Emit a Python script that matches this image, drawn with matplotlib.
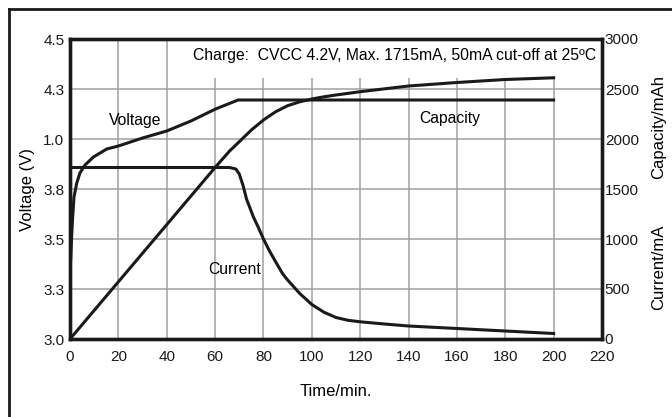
import matplotlib.pyplot as plt
from matplotlib.patches import Rectangle
from matplotlib.lines import Line2D

plt.rcParams['font.family'] = ['Liberation Sans', 'DejaVu Sans']

# ===== Data =====
volt_t = [0.3, 0.7, 1.1, 1.65, 2.8, 4.1, 6.2, 9.7, 15.2, 20, 30, 40, 50, 60, 69.5, 200]
volt_v = [3.40, 3.52, 3.61, 3.71, 3.78, 3.83, 3.87, 3.91, 3.95, 3.965, 4.005, 4.04, 4.09, 4.149, 4.195, 4.195]

curr_t = [0, 66, 68.6, 70, 71.5, 73, 75.8, 78, 80, 82.5, 85.4, 88, 90, 95, 100, 105, 110, 115,
          120, 130, 140, 160, 180, 200]
curr_ma = [1715, 1715, 1700, 1650, 1540, 1400, 1223, 1110, 1000, 880, 757, 650, 590, 455, 345,
           268, 215, 187, 172, 150, 130, 105, 80, 55]

cap_t = [0, 60, 66, 70, 75, 80, 85, 90, 95, 100, 105, 110, 120, 140, 160, 180, 200]
cap_mah = [0, 1715, 1880, 1973, 2090, 2190, 2272, 2333, 2372, 2400, 2422, 2440, 2473, 2530,
           2565, 2595, 2612]

x_ticks = list(range(0, 221, 20))
v_ticks = [3.0, 3.25, 3.5, 3.75, 4.0, 4.25, 4.5]
v_tick_labels = ["3.0", "3.3", "3.5", "3.8", "1.0", "4.3", "4.5"]
r_ticks = [0, 500, 1000, 1500, 2000, 2500, 3000]

note = "Charge:  CVCC 4.2V, Max. 1715mA, 50mA cut-off at 25ºC"

# ===== Figure =====
fig = plt.figure(figsize=(6.72, 4.17), dpi=100)
ax = fig.add_axes([70 / 672, 78 / 417, 532 / 672, 300 / 417])
ax2 = ax.twinx()

ax.set_xlim(0, 220)
ax.set_ylim(3.0, 4.5)
ax2.set_ylim(0, 3000)

ax.set_xticks(x_ticks)
ax.set_yticks(v_ticks)
ax.set_yticklabels(v_tick_labels)
ax2.set_yticks(r_ticks)

ax.grid(True, color="#a0a0a0", linewidth=1.1)
ax.set_axisbelow(True)

# white box behind the charge note hides the grid
ax.add_patch(Rectangle((44, 4.305), 176, 0.195, facecolor="white",
                       edgecolor="none", zorder=1))

# ===== Curves =====
ax.plot(volt_t, volt_v, color="#1a1a1a", linewidth=2.2, zorder=3)
ax2.plot(curr_t, curr_ma, color="#1a1a1a", linewidth=2.2, zorder=3)
ax2.plot(cap_t, cap_mah, color="#1a1a1a", linewidth=2.2, zorder=3)

# ===== Texts =====
fs = 11.3
ax.text(217.5, 4.42, note, ha="right", va="center", fontsize=fs, zorder=4)
ax.text(27, 4.095, "Voltage", ha="center", va="center", fontsize=fs, zorder=4)
ax.text(157, 4.105, "Capacity", ha="center", va="center", fontsize=fs, zorder=4)
ax.text(68, 3.345, "Current", ha="center", va="center", fontsize=fs, zorder=4)

ax.set_xlabel("Time/min.", fontsize=12, labelpad=14)
ax.set_ylabel("Voltage (V)", fontsize=12, labelpad=6)
fig.text(659 / 672, 1 - 127 / 417, "Capacity/mAh", rotation=90,
         ha="center", va="center", fontsize=12)
fig.text(659 / 672, 1 - 267 / 417, "Current/mA", rotation=90,
         ha="center", va="center", fontsize=12)

# ===== Ticks & spines =====
for a in (ax, ax2):
    a.tick_params(length=0, labelsize=11, colors="#1a1a1a")
    for spine in a.spines.values():
        spine.set_linewidth(2.4)
        spine.set_color("#1a1a1a")
ax.tick_params(axis="x", pad=8)
ax.tick_params(axis="y", pad=4)
ax2.tick_params(axis="y", pad=2)

# ===== Outer frame (only left and top edges in view) =====
fig.add_artist(Line2D([9 / 672, 9 / 672], [0, 1 - 9 / 417], color="#1a1a1a", linewidth=2))
fig.add_artist(Line2D([9 / 672, 1], [1 - 9 / 417, 1 - 9 / 417], color="#1a1a1a", linewidth=2))

plt.savefig("out.png", dpi=100)
